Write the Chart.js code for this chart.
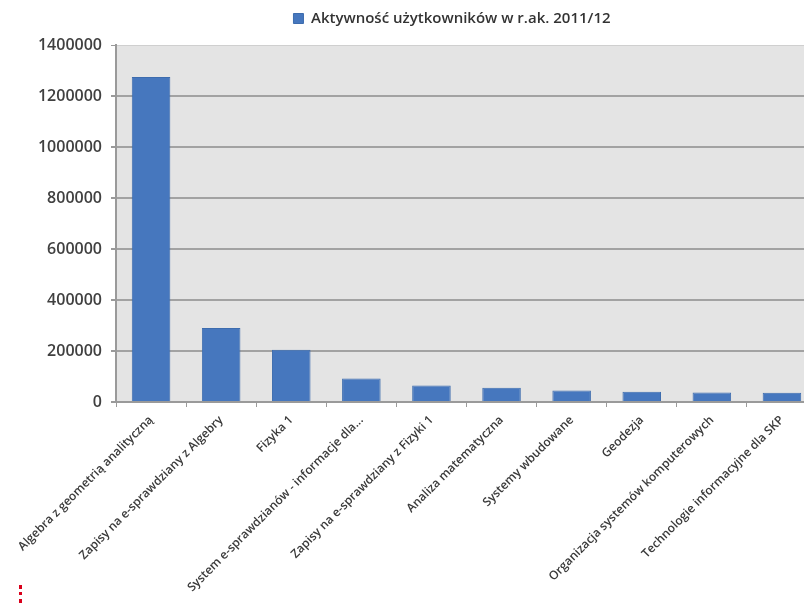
<!DOCTYPE html>
<html lang="pl">
<head>
<meta charset="utf-8">
<title>Aktywność użytkowników w r.ak. 2011/12</title>
<script src="https://cdn.jsdelivr.net/npm/chart.js@4/dist/chart.umd.min.js"></script>
<style>
  html, body { margin: 0; padding: 0; background: #fff; overflow: hidden; }
  #wrap { position: relative; width: 818px; height: 603px; }
  #marker { position: absolute; left: 19px; top: 585px; height: 18px; border-left: 3px dotted #d9001b; }
</style>
</head>
<body>
<div id="wrap">
  <canvas id="chart"></canvas>
  <div id="marker"></div>
</div>
<script>
const seriesLabel = "Aktywność użytkowników w r.ak. 2011/12"

const courses = [
  "Algebra z geometrią analityczną",
  "Zapisy na e-sprawdziany z Algebry",
  "Fizyka 1",
  "System e-sprawdzianów - informacje dla...",
  "Zapisy na e-sprawdziany z Fizyki 1",
  "Analiza matematyczna",
  "Systemy wbudowane",
  "Geodezja",
  "Organizacja systemów komputerowych",
  "Technologie informacyjne dla SKP",
]

const activity = [1275000, 290000, 205000, 92000, 65000, 56000, 45000, 40000, 37000, 36000]

const yTicks = [0, 200000, 400000, 600000, 800000, 1000000, 1200000, 1400000]

// grey plot area behind the bars
const plotBackground = {
  id: "plotBackground",
  beforeDraw: (chart) => {
    const { ctx, chartArea } = chart
    ctx.save()
    ctx.fillStyle = "#e4e4e4"
    ctx.fillRect(chartArea.left, chartArea.top, chartArea.width, chartArea.height)
    ctx.restore()
  },
}

// the original chart is wider than the crop, so its legend sits right of centre
const legendOffset = {
  id: "legendOffset",
  afterLayout: (chart) => {
    if (chart.legend) chart.legend.left = 87
  },
}

const font = "'Open Sans', 'Noto Sans', sans-serif"

new Chart(document.getElementById("chart"), {
  type: "bar",
  data: {
    labels: courses,
    datasets: [
      {
        label: seriesLabel,
        data: activity,
        backgroundColor: "#4677be",
        borderColor: "#3d6cae",
        borderWidth: 1,
        barPercentage: 0.55,
        categoryPercentage: 1,
      },
    ],
  },
  options: {
    responsive: true,
    maintainAspectRatio: false,
    animation: false,
    layout: {
      padding: { left: 0, right: 1, top: 0, bottom: 0 },
    },
    scales: {
      x: {
        grid: {
          drawOnChartArea: false,
          drawTicks: true,
          tickLength: 5,
          color: "#9a9a9a",
        },
        border: { color: "#9a9a9a", width: 2 },
        ticks: {
          autoSkip: false,
          maxRotation: 45,
          minRotation: 45,
          padding: 6,
          color: "#3a3a3a",
          font: { family: font, size: 12, weight: "600" },
        },
        afterFit: (scale) => {
          scale.height = 201
        },
      },
      y: {
        min: 0,
        max: yTicks[yTicks.length - 1],
        afterBuildTicks: (scale) => {
          scale.ticks = yTicks.map((value) => ({ value }))
        },
        grid: {
          color: (context) => (context.tick && context.tick.value === 1400000 ? "#cfcfcf" : "#a2a2a2"),
          lineWidth: (context) => (context.tick && context.tick.value === 1400000 ? 1 : 2),
          tickLength: 5,
          tickColor: "#9a9a9a",
        },
        border: { color: "#9a9a9a", width: 2 },
        ticks: {
          padding: 9,
          color: "#404040",
          font: { family: font, size: 16, weight: "600" },
          callback: (value) => String(value),
        },
        afterFit: (scale) => {
          scale.width = 116
        },
      },
    },
    plugins: {
      legend: {
        position: "top",
        labels: {
          boxWidth: 10,
          boxHeight: 10,
          padding: 11,
          color: "#333",
          font: { family: font, size: 15, weight: "600" },
        },
      },
      // spacer between legend and plot area
      subtitle: {
        display: true,
        text: "",
        weight: 500,
        padding: { top: 0, bottom: 8 },
        font: { size: 1, lineHeight: 1 },
      },
      tooltip: { enabled: false },
    },
  },
  plugins: [plotBackground, legendOffset],
})
</script>
</body>
</html>
